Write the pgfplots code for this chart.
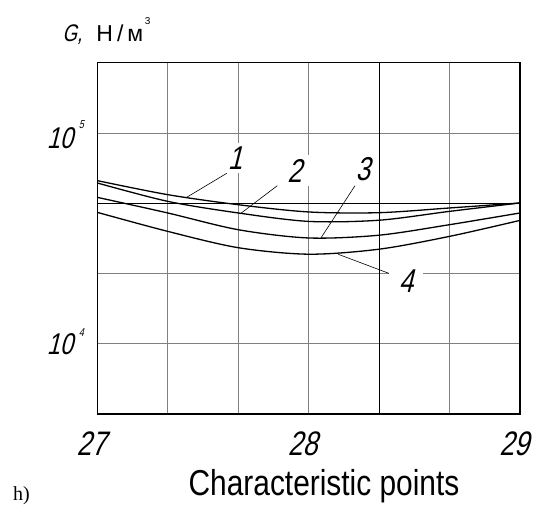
\documentclass[border=0pt]{standalone}
\usepackage{fontspec}
\usepackage{pgfplots}
\pgfplotsset{compat=1.18}
\setmainfont{Liberation Sans}
\newfontfamily\gost[FakeStretch=0.83]{Liberation Sans}
\newfontfamily\gostup{Liberation Sans}
\newfontfamily\gostit[FakeStretch=0.78,FakeSlant=0.25]{Liberation Sans}
\newfontfamily\tnr{Liberation Serif}

\begin{document}
\begin{tikzpicture}
\useasboundingbox (-97.3pt,-92pt) rectangle (440.7pt,414pt);
\begin{axis}[
  at={(0pt,0pt)}, anchor=south west,
  scale only axis, width=422.7pt, height=351.3pt,
  xmin=27, xmax=29, ymode=log, ymin=4641.59, ymax=215443.5,
  axis line style={line width=1.4pt},
  xtick={27,27.33333,27.66667,28,28.66667,29},
  xticklabels={27,{},{},28,{},29},
  xticklabel style={font=\fontsize{34}{34}\selectfont\gostit, anchor=base, yshift=-42pt, xshift=-6pt},
  ytick={10000,21544.35,100000}, yticklabels={},
  extra x ticks={28.33333}, extra x tick labels={},
  extra y ticks={46415.89}, extra y tick labels={},
  extra x tick style={grid=major, major grid style={black,line width=1.1pt}},
  extra y tick style={grid=major, major grid style={black,line width=1.1pt}},
  grid=major, major grid style={gray, line width=0.7pt},
  tick style={draw=none}, major tick length=0pt,
  clip=false,
]
\addplot[black, line width=1.3pt, smooth] coordinates {(27,59400) (27.33333,50950) (27.66667,45660) (28,42180) (28.33333,41850) (28.66667,44060) (29,46540)};
\addplot[black, line width=1.3pt, smooth] coordinates {(27,57900) (27.33333,47360) (27.66667,41720) (28,38050) (28.33333,38550) (28.66667,42460) (29,46540)};
\addplot[black, line width=1.3pt, smooth] coordinates {(27,49480) (27.33333,41720) (27.66667,34750) (28,31750) (28.33333,32730) (28.66667,36710) (29,41720)};
\addplot[black, line width=1.3pt, smooth] coordinates {(27,42000) (27.33333,34120) (27.66667,28550) (28,26590) (28.33333,28090) (28.66667,32310) (29,38470)};
\end{axis}
% leader lines
\draw[black, line width=0.6pt] (129.4pt,240.7pt) -- (89.4pt,216.7pt);
\draw[black, line width=0.6pt] (180pt,228.3pt) -- (142.7pt,200pt);
\draw[black, line width=0.6pt] (257.7pt,228.3pt) -- (223.4pt,175.7pt);
\draw[black, line width=0.6pt] (296pt,139pt) -- (241pt,159.7pt);
% curve labels
\begin{scope}[every node/.style={fill=white, inner xsep=4pt, inner ysep=4pt, font=\fontsize{33}{33}\selectfont\gostit}]
\node at (137.7pt,256pt) {1};
\node[inner xsep=7pt] at (197.2pt,243.2pt) {2};
\node[inner xsep=8pt] at (265.5pt,245pt) {3};
\node[inner xsep=10pt] at (308.7pt,133pt) {4};
\end{scope}
% y labels
\node[anchor=base west, inner sep=0pt, font=\fontsize{30}{30}\selectfont\gostit] at (-50.6pt,265.7pt) {10\hspace{6pt}\raisebox{20pt}{\fontsize{11.5}{11.5}\selectfont 5}};
\node[anchor=base west, inner sep=0pt, font=\fontsize{30}{30}\selectfont\gostit] at (-50.6pt,59pt) {10\hspace{6pt}\raisebox{18pt}{\fontsize{11.5}{11.5}\selectfont 4}};
% title
\node[anchor=base west, inner sep=0pt, font=\fontsize{24}{24}\selectfont\gostit] at (-35pt,372pt) {G,};
\node[anchor=base west, inner sep=0pt, font=\fontsize{23}{23}\selectfont\gostup] at (-1pt,372pt) {Н\hspace{4pt}/\hspace{4pt}м\hspace{1.5pt}\raisebox{17pt}{\fontsize{10}{10}\selectfont 3}};
% x label
\node[anchor=base, inner sep=0pt, font=\fontsize{36}{36}\selectfont\gost] at (226.7pt,-81pt) {Characteristic points};
% panel letter
\node[anchor=base west, inner sep=0pt, font=\fontsize{20}{20}\selectfont\tnr] at (-84.3pt,-86pt) {h)};
\end{tikzpicture}
\end{document}
